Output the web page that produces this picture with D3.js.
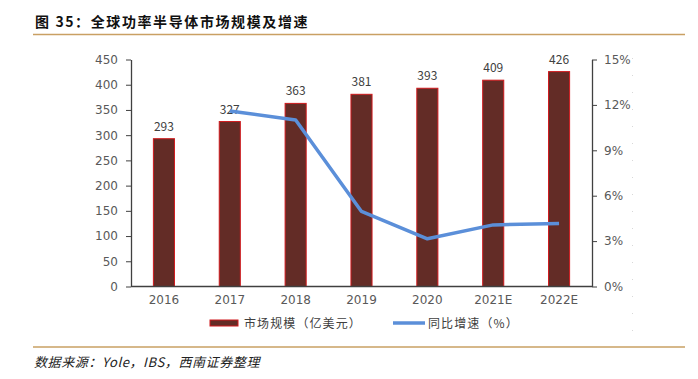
<!DOCTYPE html>
<html>
<head>
<meta charset="utf-8">
<script src="https://cdn.jsdelivr.net/npm/d3@7"></script>
<style>
  body { margin: 0; background: #fff; }
  svg { display: block; font-family: "Noto Sans CJK SC", "DejaVu Sans", sans-serif; }
</style>
</head>
<body>
<svg id="chart" width="698" height="379"></svg>
<script>
const years = ["2016", "2017", "2018", "2019", "2020", "2021E", "2022E"];
const marketSize = [293, 327, 363, 381, 393, 409, 426];
// growth starts at 2017
const growthYears = ["2017", "2018", "2019", "2020", "2021E", "2022E"];
const growthPct = [11.6, 11.0, 4.96, 3.15, 4.07, 4.16];
const leftTicks = [0, 50, 100, 150, 200, 250, 300, 350, 400, 450];
const rightTicks = [0, 3, 6, 9, 12, 15];

const svg = d3.select("#chart");
const plotL = 131, plotR = 592, plotT = 59.5, plotB = 286.5;

const x = d3.scaleBand().domain(years).range([plotL, plotR]).paddingInner(0.68).paddingOuter(0.34);
const y = d3.scaleLinear().domain([0, 450]).range([plotB, plotT]);
const y2 = d3.scaleLinear().domain([0, 15]).range([plotB, plotT]);

// title + rules
svg.append("text").attr("x", 35).attr("y", 27)
  .attr("font-size", 14).attr("font-weight", "bold").attr("fill", "#111")
  .attr("letter-spacing", 1.6)
  .text("图 35：全球功率半导体市场规模及增速");
svg.append("line").attr("x1", 33).attr("x2", 685).attr("y1", 34.5).attr("y2", 34.5)
  .attr("stroke", "#c9a063").attr("stroke-width", 1.5);
svg.append("line").attr("x1", 33).attr("x2", 685).attr("y1", 347).attr("y2", 347)
  .attr("stroke", "#c9a063").attr("stroke-width", 1.5);
svg.append("line").attr("x1", 632.5).attr("x2", 632.5).attr("y1", 58).attr("y2", 332)
  .attr("stroke", "#d8d8d8").attr("stroke-dasharray", "1,16");

// bars
svg.append("g").selectAll("rect").data(marketSize).join("rect")
  .attr("x", (d, i) => x(years[i]))
  .attr("y", d => y(d))
  .attr("width", x.bandwidth())
  .attr("height", d => plotB - y(d))
  .attr("fill", "#632c26")
  .attr("stroke", "#d0191c").attr("stroke-width", 1);

svg.append("g").selectAll("text").data(marketSize).join("text")
  .attr("x", (d, i) => x(years[i]) + x.bandwidth() / 2)
  .attr("y", d => y(d) - 8)
  .attr("text-anchor", "middle").attr("font-size", 12).attr("fill", "#404040")
  .text(d => d);

// line
const line = d3.line()
  .x((d, i) => x(growthYears[i]) + x.bandwidth() / 2)
  .y(d => y2(d));
svg.append("path").datum(growthPct).attr("d", line)
  .attr("fill", "none").attr("stroke", "#5b8fd9").attr("stroke-width", 3.5)
  .attr("stroke-linejoin", "round");

// axes
const axL = svg.append("g").attr("transform", `translate(${plotL},0)`)
  .call(d3.axisLeft(y).tickValues(leftTicks).tickSize(5).tickSizeOuter(0));
const axR = svg.append("g").attr("transform", `translate(${plotR},0)`)
  .call(d3.axisRight(y2).tickValues(rightTicks).tickSize(5).tickSizeOuter(0).tickFormat(d => d + "%"));
const axB = svg.append("g").attr("transform", `translate(0,${plotB})`)
  .call(d3.axisBottom(x).tickSize(0));
axB.select(".domain").attr("d", `M${plotL},0H${plotR}`);

[axL, axR, axB].forEach(g => {
  g.select(".domain").attr("stroke", "#404040").attr("stroke-width", 1.3);
  g.selectAll(".tick line").attr("stroke", "#404040");
  g.selectAll("text").attr("font-size", 12).attr("fill", "#595959")
    .attr("font-family", "'DejaVu Sans', sans-serif");
});
axL.selectAll("text").attr("x", -13);
axR.selectAll("text").attr("x", 12);
axB.selectAll("text").attr("y", 9);

// legend
const lg = svg.append("g").attr("transform", "translate(0,323)");
lg.append("rect").attr("x", 210).attr("y", -3).attr("width", 28).attr("height", 6)
  .attr("fill", "#632c26").attr("stroke", "#d0191c");
lg.append("text").attr("x", 244).attr("y", 4.5).attr("font-size", 12).attr("fill", "#404040")
  .attr("letter-spacing", 1.1)
  .text("市场规模（亿美元）");
lg.append("line").attr("x1", 393).attr("x2", 425).attr("y1", 0).attr("y2", 0)
  .attr("stroke", "#5b8fd9").attr("stroke-width", 3.5);
lg.append("text").attr("x", 428).attr("y", 4.5).attr("font-size", 12).attr("fill", "#404040")
  .attr("letter-spacing", 1.1)
  .text("同比增速（%）");

// source
svg.append("text").attr("x", 34).attr("y", 367).attr("font-size", 13)
  .attr("font-style", "italic").attr("fill", "#222").attr("letter-spacing", 0.6)
  .text("数据来源：Yole，IBS，西南证券整理");
</script>
</body>
</html>
